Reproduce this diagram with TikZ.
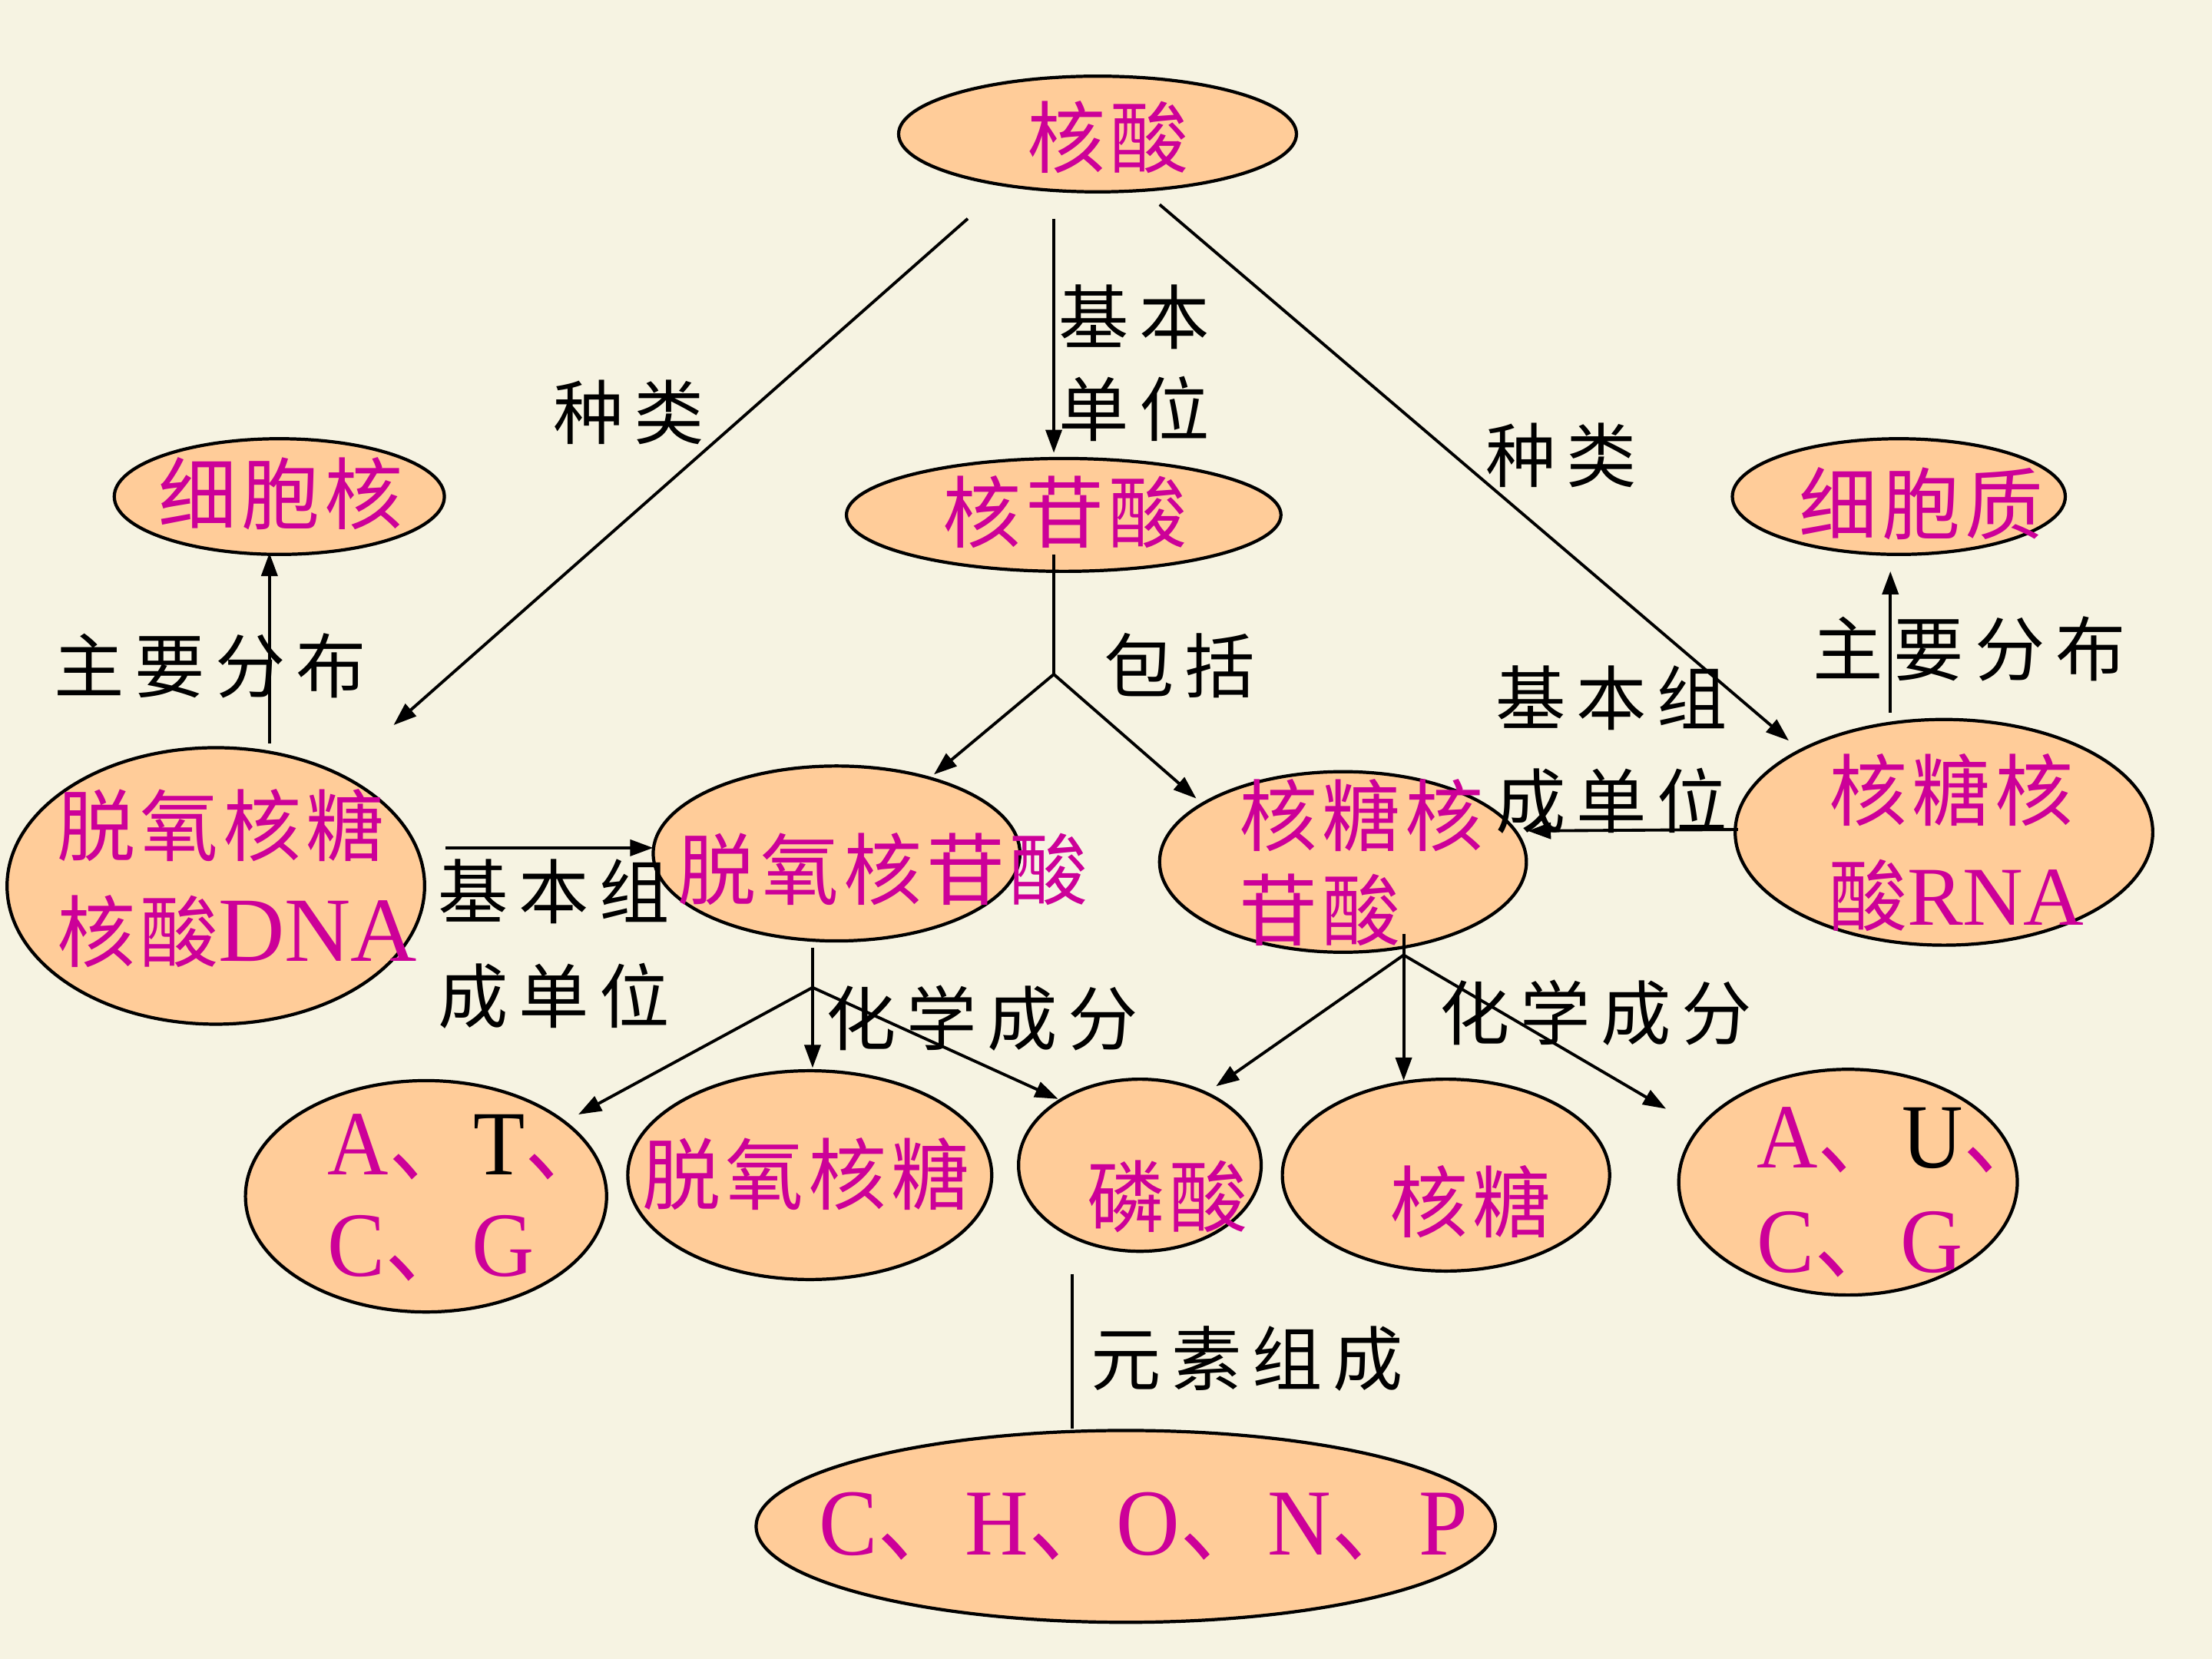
\documentclass[tikz,border=0pt]{standalone}
\usepackage{graphicx}
\usepackage{fontspec}
\setmainfont{Liberation Serif}
\newfontfamily\cjk[LetterSpace=6]{Noto Sans CJK SC}
\newfontfamily\lab[LetterSpace=15]{Noto Sans CJK SC}
\usetikzlibrary{arrows.meta,shapes.geometric}
\definecolor{bg}{RGB}{246,243,226}
\definecolor{peach}{RGB}{255,204,153}
\definecolor{mag}{RGB}{204,0,153}
\newlength{\px}\setlength{\px}{0.18367mm}
\tikzset{
  ell/.style={ellipse, draw=black, line width=1.2pt, fill=peach, inner sep=0pt},
  mt/.style={text=mag, inner sep=0pt, anchor=west, font=\cjk\fontsize{29}{34}\selectfont},
  lt/.style={text=mag, inner sep=0pt, anchor=west, font=\fontsize{34}{40}\selectfont},
  bt/.style={text=black, inner sep=0pt, anchor=west, font=\lab\fontsize{26}{30}\selectfont},
  con/.style={line width=1.1pt},
  arr/.style={con, -{Triangle[length=3mm,width=2.1mm]}},
}
\newcommand{\dun}{{\cjk 、}}
\begin{document}
\begin{tikzpicture}[x=0.18367mm, y=-0.18367mm]
\fill[bg] (0,0) rectangle (1568,1176);
\useasboundingbox (0,0) rectangle (1568,1176);

% ellipses
\node[ell, minimum width=282\px, minimum height=82\px] (hs) at (778,95) {};
\node[ell, minimum width=308\px, minimum height=80\px] (hgs) at (754,365) {};
\node[ell, minimum width=234\px, minimum height=82\px] (xbh) at (198,352) {};
\node[ell, minimum width=236\px, minimum height=82\px] (xbz) at (1346,352) {};
\node[ell, minimum width=296\px, minimum height=196\px] (dna) at (153,628) {};
\node[ell, minimum width=260\px, minimum height=124\px] (tgs) at (593,605) {};
\node[ell, minimum width=260\px, minimum height=128\px] (rgs) at (952,611) {};
\node[ell, minimum width=296\px, minimum height=160\px] (rna) at (1378,590) {};
\node[ell, minimum width=256\px, minimum height=164\px] (atcg) at (302,848) {};
\node[ell, minimum width=258\px, minimum height=148\px] (tht) at (574,833) {};
\node[ell, minimum width=172\px, minimum height=122\px] (ls) at (808,826) {};
\node[ell, minimum width=232\px, minimum height=136\px] (ht) at (1025,833) {};
\node[ell, minimum width=240\px, minimum height=160\px] (aucg) at (1310,838) {};
\node[ell, minimum width=524\px, minimum height=136\px] (chonp) at (798,1082) {};

% free connector ends and junctions
\coordinate (hsL) at (686,155);
\coordinate (hsM) at (747,155);
\coordinate (hsR) at (822,145);
\coordinate (dnaIn) at (279,514);
\coordinate (hgsIn) at (747,321);
\coordinate (rnaIn) at (1268,525);
\coordinate (hgsOut) at (747,393);
\coordinate (j1) at (747,478);
\coordinate (tgsIn) at (662,549);
\coordinate (rgsIn) at (848,566);
\coordinate (dnaUp) at (191,527);
\coordinate (xbhIn) at (191,392);
\coordinate (rnaUp) at (1340,505);
\coordinate (xbzIn) at (1340,405);
\coordinate (dnaR) at (316,601);
\coordinate (tgsL) at (463,601);
\coordinate (rnaL) at (1232,588);
\coordinate (rgsR) at (1083,589);
\coordinate (tgsOut) at (576,672);
\coordinate (j2) at (576,700);
\coordinate (atcgIn) at (410,790);
\coordinate (thtIn) at (576,757);
\coordinate (lsInL) at (750,779);
\coordinate (rgsOut) at (995,662);
\coordinate (j3) at (995,677);
\coordinate (lsInR) at (862,770);
\coordinate (htIn) at (995,766);
\coordinate (aucgIn) at (1181,786);
\coordinate (lsOut) at (760,903);

% connectors
\draw[arr] (hsL) -- (dnaIn);
\draw[arr] (hsM) -- (hgsIn);
\draw[arr] (hsR) -- (rnaIn);
\draw[con] (hgsOut) -- (j1);
\draw[arr] (j1) -- (tgsIn);
\draw[arr] (j1) -- (rgsIn);
\draw[arr] (dnaUp) -- (xbhIn);
\draw[arr] (rnaUp) -- (xbzIn);
\draw[arr] (dnaR) -- (tgsL);
\draw[arr] (rnaL) -- (rgsR);
\draw[con] (tgsOut) -- (j2);
\draw[arr] (j2) -- (atcgIn);
\draw[arr] (j2) -- (thtIn);
\draw[arr] (j2) -- (lsInL);
\draw[con] (rgsOut) -- (j3);
\draw[arr] (j3) -- (lsInR);
\draw[arr] (j3) -- (htIn);
\draw[arr] (j3) -- (aucgIn);
\draw[con] (lsOut) -- (lsOut |- chonp.north);

% magenta texts
\node[mt] (hs-t) at (728,97) {核酸};
\node[mt] (hgs-t) at (668,363) {核苷酸};
\node[mt] (xbh-t) at (112,350) {细胞核};
\node[mt] (xbz-t) at (1275,357) {细胞质};
\node[mt] (dna-t1) at (40,585) {脱氧核糖};
\node[mt] (dna-t2) at (40,660) {核酸{\rmfamily\fontsize{34}{38}\selectfont DNA}};
\node[mt] (tgs-t) at (480,616) {脱氧核苷酸};
\node[mt] (rgs-t1) at (878,578) {核糖核};
\node[mt] (rgs-t2) at (878,645) {苷酸};
\node[mt] (rna-t1) at (1296,560) {核糖核};
\node[mt] (rna-t2) at (1296,635) {酸{\rmfamily\fontsize{31}{36}\selectfont RNA}};
\node[lt] (atcg-t1) at (232,813) {\scalebox{0.92}[1]{A\dun{\color{black}T}\dun}};
\node[lt] (atcg-t2) at (232,885) {\scalebox{0.94}[1]{C\dun G}};
\node[mt] (tht-t) at (455,832) {脱氧核糖};
\node[mt] (ls-t) at (770,848) {磷酸};
\node[mt] (ht-t) at (985,852) {核糖};
\node[lt] (aucg-t1) at (1245,808) {\scalebox{0.92}[1]{A\dun{\color{black}U}\dun}};
\node[lt] (aucg-t2) at (1245,882) {\scalebox{0.94}[1]{C\dun G}};
\node[lt, font=\fontsize{35}{40}\selectfont] (chonp-t) at (580,1082) {\scalebox{0.93}[1]{C\dun H\dun O\dun N\dun P}};

% black labels
\node[bt] (l-zl1) at (392,292) {种类};
\node[bt] (l-jb1) at (750,225) {基本};
\node[bt] (l-dw1) at (750,290) {单位};
\node[bt] (l-zl2) at (1053,323) {种类};
\node[bt] (l-bk) at (782,472) {包括};
\node[bt] (l-fb1) at (38,472) {主要分布};
\node[bt] (l-fb2) at (1285,460) {主要分布};
\node[bt] (l-jz1) at (310,632) {基本组};
\node[bt] (l-cd1) at (310,706) {成单位};
\node[bt] (l-jz2) at (1060,495) {基本组};
\node[bt] (l-cd2) at (1060,568) {成单位};
\node[bt] (l-hx1) at (585,722) {化学成分};
\node[bt] (l-hx2) at (1020,718) {化学成分};
\node[bt] (l-ys) at (773,963) {元素组成};
\end{tikzpicture}
\end{document}
